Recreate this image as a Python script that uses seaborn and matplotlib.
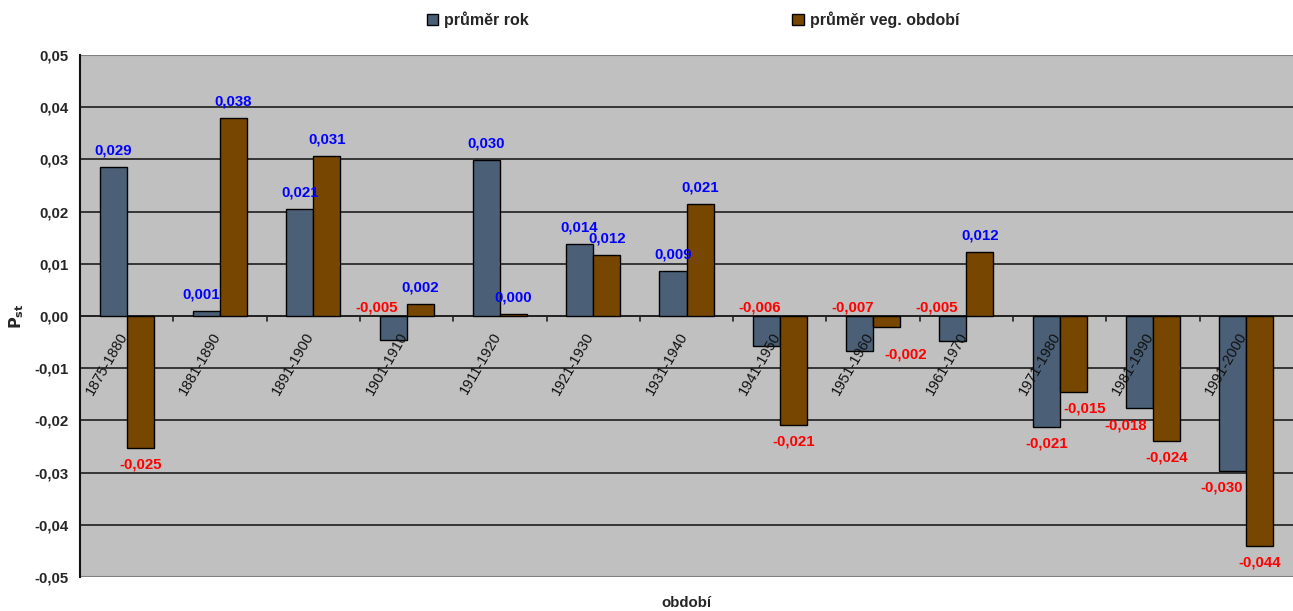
import numpy as np
import pandas as pd
import matplotlib
matplotlib.use("Agg")
import matplotlib.pyplot as plt
import seaborn as sns
from matplotlib.patches import Patch

periods = ["1875-1880", "1881-1890", "1891-1900", "1901-1910", "1911-1920", "1921-1930",
           "1931-1940", "1941-1950", "1951-1960", "1961-1970", "1971-1980", "1981-1990", "1991-2000"]
rok = [0.0285, 0.0010, 0.0205, -0.0046, 0.0299, 0.0138, 0.0086, -0.0057, -0.0068,
       -0.0048, -0.0213, -0.0177, -0.0297]
veg = [-0.0253, 0.0379, 0.0306, 0.0023, 0.0003, 0.0117, 0.0214, -0.0209, -0.0021,
       0.0123, -0.0146, -0.0239, -0.0441]
series_names = ["průměr rok", "průměr veg. období"]
colors = ["#4B6077", "#774600"]
yticks = [-0.05, -0.04, -0.03, -0.02, -0.01, 0.0, 0.01, 0.02, 0.03, 0.04, 0.05]

df = pd.DataFrame({
    "období": periods * 2,
    "value": rok + veg,
    "series": [series_names[0]] * len(periods) + [series_names[1]] * len(periods),
})

sns.set_style("white")
plt.rcParams["font.family"] = ["Liberation Sans", "DejaVu Sans"]

fig = plt.figure(figsize=(12.93, 6.11), dpi=100)
ax = fig.add_axes([80 / 1293, 1 - 577 / 611, 1 - 80 / 1293, (577 - 55) / 611])
ax.set_facecolor("#C0C0C0")

sns.barplot(data=df, x="období", y="value", hue="series", palette=colors, saturation=1,
            width=0.58, edgecolor="black", linewidth=1.0, ax=ax, legend=False,
            zorder=3, errorbar=None)

ax.set_ylim(-0.05, 0.05)
ax.set_xlim(-0.5, len(periods) - 0.5)
ax.set_yticks(yticks)
ax.set_yticklabels([f"{v:.2f}".replace(".", ",") for v in yticks],
                   fontsize=10.8, fontweight="bold")
for v in yticks:
    ax.axhline(v, color="#1e1e1e", lw=1.2, zorder=1)
ax.axhline(0.05, color="#808080", lw=1.5, zorder=1)
ax.axhline(-0.05, color="#808080", lw=1.5, zorder=1)
ax.axhline(0, color="#222222", lw=1.3, zorder=2)

for s in ["top", "right", "bottom"]:
    ax.spines[s].set_visible(False)
ax.spines["left"].set_color("#111111")
ax.spines["left"].set_linewidth(1.5)
ax.tick_params(axis="y", direction="out", length=5, width=1.2, color="black", pad=3)

# category tick marks on zero line
ax.set_xticks([])
for b in np.arange(0.5, len(periods) - 0.5, 1.0):
    ax.plot([b, b], [0, -0.001], color="#222222", lw=1.2, zorder=2, clip_on=False)

# category labels (rotated, on zero line)
for i, p in enumerate(periods):
    ax.text(i - 0.09, -0.0026, p, rotation=60, rotation_mode="anchor",
            ha="right", va="top", fontsize=10.5, color="#111111", zorder=6)

# data labels
special = {("r", 3): (-12, 6), ("r", 7): (-5, 6), ("r", 8): (-5, 6), ("r", 9): (-12, 6),
           ("v", 8): (14, -8), ("v", 10): (8, 0), ("r", 11): (-10, 0),
           ("r", 12): (-8, 0), ("r", 1): (-4, 0)}
for key, vals, dxs in (("r", rok, -0.145), ("v", veg, 0.145)):
    for i, v in enumerate(vals):
        lab = f"{v:.3f}".replace(".", ",")
        if lab == "-0,000":
            lab = "0,000"
        col = "#0000FF" if v >= 0 else "#FF0000"
        dy = 12 if v >= 0 else -12
        ox, oy = special.get((key, i), (0, 0))
        if (key, i) in [("r", 3), ("r", 7), ("r", 8), ("r", 9)]:
            base = 0.0
            dy = 0
        else:
            base = v
        ax.annotate(lab, (i + dxs, base), xytext=(ox, dy + oy), textcoords="offset points",
                    ha="center", va="center", fontsize=10.8, fontweight="bold", color=col,
                    zorder=7)

ax.set_xlabel("")
ax.set_ylabel(r"$\mathbf{P_{st}}$", fontsize=11.5, labelpad=6)
fig.text((80 + 1293) / 2 / 1293, 1 - 603 / 611, "období", ha="center", va="center",
         fontsize=10.8, fontweight="bold")

handles = [Patch(facecolor=c, edgecolor="black", lw=1.0) for c in colors]
fig.legend(handles, series_names, loc="center", bbox_to_anchor=(693 / 1293, 1 - 20 / 611),
           ncol=2, frameon=False, prop={"weight": "bold", "size": 11.5},
           handlelength=0.7, handleheight=0.7, handletextpad=0.4, columnspacing=16.5)

fig.savefig("out.png", dpi=100)
